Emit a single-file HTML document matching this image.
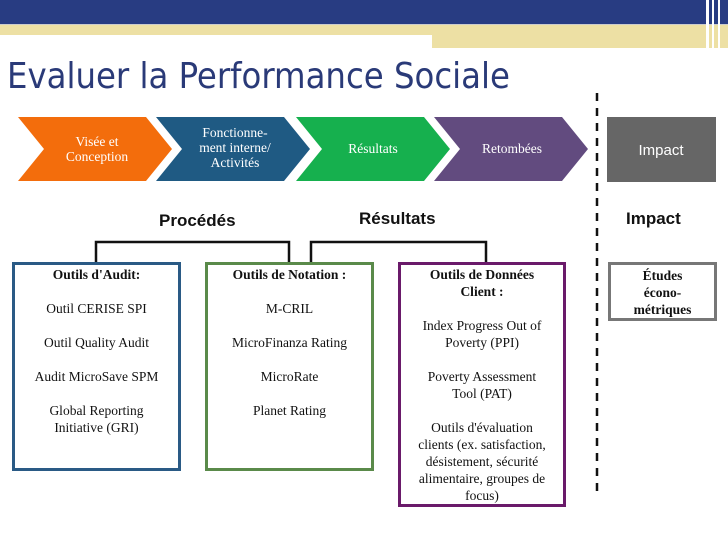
<!DOCTYPE html>
<html><head><meta charset="utf-8"><style>
body{margin:0;width:728px;height:546px;position:relative;background:#fff;overflow:hidden;font-family:"Liberation Serif",serif}
.a{position:absolute}
.box{position:absolute;box-sizing:border-box;border:3px solid;text-align:center;font-size:13.5px;line-height:17px;color:#111}
.box b{display:block}
.box p{margin:0 0 17px 0}
.h{position:absolute;font-family:"Liberation Sans",sans-serif;font-weight:bold;font-size:17px;color:#111}
</style></head><body>
<div class="a" style="left:0;top:0;width:728px;height:24px;background:#283c82"></div>
<div class="a" style="left:0;top:24px;width:728px;height:1px;background:#ccc"></div>
<div class="a" style="left:0;top:25px;width:728px;height:10px;background:#ede0a4"></div>
<div class="a" style="left:432px;top:35px;width:296px;height:13px;background:#ede0a4"></div>
<div class="a" style="left:706px;top:0;width:3px;height:48px;background:#fff"></div>
<div class="a" style="left:712px;top:0;width:2px;height:48px;background:#fff"></div>
<div class="a" style="left:718px;top:0;width:2px;height:48px;background:#fff"></div>
<div class="a" style="left:7px;top:56px;font-family:'DejaVu Sans Condensed','DejaVu Sans',sans-serif;font-size:36px;color:#2a3a78;white-space:nowrap">Evaluer la Performance Sociale</div>
<svg class="a" style="left:0;top:0" width="728" height="546">
<g stroke-width="1">
<polygon points="18,117 146,117 172,149 146,181 18,181 44,149" fill="#f36d0c"/>
<polygon points="156,117 284,117 310,149 284,181 156,181 182,149" fill="#1f5a83"/>
<polygon points="296,117 424,117 450,149 424,181 296,181 322,149" fill="#16b04e"/>
<polygon points="434,117 562,117 588,149 562,181 434,181 460,149" fill="#624b7f"/>
</g>
<rect x="607" y="117" width="109" height="65" fill="#666"/>
<line x1="597" y1="93" x2="597" y2="492" stroke="#111" stroke-width="2.5" stroke-dasharray="8,7"/>
<polyline points="96,262 96,242 289,242 289,262" fill="none" stroke="#111" stroke-width="2.5"/>
<polyline points="311,262 311,242 486,242 486,262" fill="none" stroke="#111" stroke-width="2.5"/>
<g font-family="Liberation Serif,serif" font-size="13.5" fill="#fff" text-anchor="middle">
<text x="97" y="146">Visée et</text><text x="97" y="161">Conception</text>
<text x="235" y="137">Fonctionne-</text><text x="235" y="152">ment interne/</text><text x="235" y="167">Activités</text>
<text x="373" y="153">Résultats</text>
<text x="512" y="153">Retombées</text>
</g>
<text x="661" y="155" font-family="Liberation Sans,sans-serif" font-size="15" fill="#fff" text-anchor="middle">Impact</text>
</svg>
<div class="h" style="left:159px;top:211px">Procédés</div>
<div class="h" style="left:359px;top:209px">Résultats</div>
<div class="h" style="left:626px;top:209px">Impact</div>
<div class="box" style="left:12px;top:262px;width:169px;height:209px;border-color:#2a5a85;padding-top:1px"><p><b>Outils d'Audit:</b></p><p>Outil CERISE SPI</p><p>Outil Quality Audit</p><p>Audit MicroSave SPM</p><p>Global Reporting<br>Initiative (GRI)</p></div>
<div class="box" style="left:205px;top:262px;width:169px;height:209px;border-color:#5a8a4a;padding-top:1px"><p><b>Outils de Notation :</b></p><p>M-CRIL</p><p>MicroFinanza Rating</p><p>MicroRate</p><p>Planet Rating</p></div>
<div class="box" style="left:398px;top:262px;width:168px;height:245px;border-color:#6a1a6a;padding-top:1px"><p><b>Outils de Données<br>Client :</b></p><p>Index Progress Out of<br>Poverty (PPI)</p><p>Poverty Assessment<br>Tool (PAT)</p><p>Outils d'évaluation<br>clients (ex. satisfaction,<br>désistement, sécurité<br>alimentaire, groupes de<br>focus)</p></div>
<div class="box" style="left:608px;top:262px;width:109px;height:59px;border-color:#777;padding-top:2px"><b>Études<br>écono-<br>métriques</b></div>
</body></html>
